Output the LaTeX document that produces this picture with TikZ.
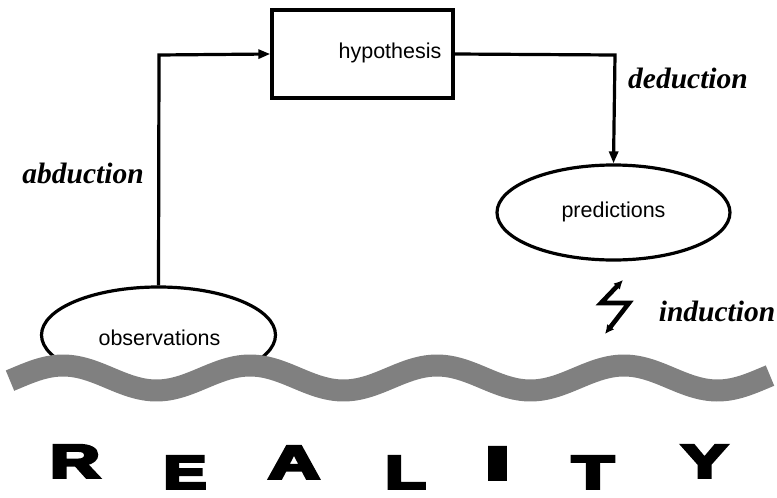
\documentclass[tikz,border=0pt]{standalone}
\usepackage{fontspec}
\setmainfont{Liberation Serif}
\newfontfamily\sansf{Liberation Sans}
\newfontfamily\realf[FakeBold=6]{Liberation Sans Bold}
\usetikzlibrary{arrows.meta,shapes.geometric}
\definecolor{wavegray}{RGB}{128,128,128}
\tikzset{
  conn/.style={line width=3.2pt,-{Triangle[length=12pt,width=9pt]}},
  ellnode/.style={ellipse,draw,line width=3.2pt,inner sep=0pt,fill=white},
  boxnode/.style={rectangle,draw,line width=3.4pt,inner sep=0pt},
  sanslabel/.style={font=\sansf\fontsize{21.5}{24}\selectfont,inner sep=0pt},
  infer/.style={font=\bfseries\itshape\fontsize{29.5}{32}\selectfont,inner sep=0pt},
  letter/.style={font=\realf\fontsize{47}{52}\selectfont,inner sep=0pt,anchor=north},
}
\begin{document}
\begin{tikzpicture}[x=1pt,y=-1pt]
\useasboundingbox (0,0) rectangle (777,498);
% hypothesis box
\node[boxnode,minimum width=181pt,minimum height=88pt] (hyp) at (362.5,54) {};
\node[sanslabel] (hyptext) at (390,53) {hypothesis};
% ellipses
\node[ellnode,minimum width=234pt,minimum height=96pt] (obs) at (158.5,335) {};
\node[sanslabel] (obstext) at (159.5,338) {observations};
\node[ellnode,minimum width=233pt,minimum height=95pt] (pred) at (613.5,212.5) {};
\node[sanslabel] (predtext) at (613.5,212) {predictions};
% connectors
\coordinate (c1) at (159,55);
\coordinate (c2) at (615,55);
\draw[conn] (obs.north) -- (c1) -- (hyp.west);
\draw[conn] (hyp.east) -- (c2) -- (pred.north);
% labels
\node[infer] (abd) at (83,173) {abduction};
\node[infer] (ded) at (688,78) {deduction};
\node[infer] (ind) at (717,311) {induction};
% lightning
\draw[line width=4.6pt,line join=miter,{Latex[length=9pt,width=9pt]}-{Latex[length=9pt,width=9pt]}]
  (623,280) -- (601,303) -- (629,303) -- (605,334);
% wave
\draw[wavegray,line width=22pt] plot[domain=10:770,samples=200,smooth] (\x,{378-12.5*cos(1.925134*(\x-63))});
% REALITY
\node[letter] (lR) at (75,445) {\scalebox{1.47}[1]{R}};
\node[letter] (lE) at (185,456) {\scalebox{1.37}[1]{E}};
\node[letter] (lA) at (294,446) {\scalebox{1.52}[1]{A}};
\node[letter] (lL) at (405.5,456) {\scalebox{1.42}[1]{L}};
\node[letter] (lI) at (497.5,447) {\scalebox{1.95}[1]{I}};
\node[letter] (lT) at (593,456) {\scalebox{1.47}[1]{T}};
\node[letter] (lY) at (704.5,445) {\scalebox{1.47}[1]{Y}};
\end{tikzpicture}
\end{document}
